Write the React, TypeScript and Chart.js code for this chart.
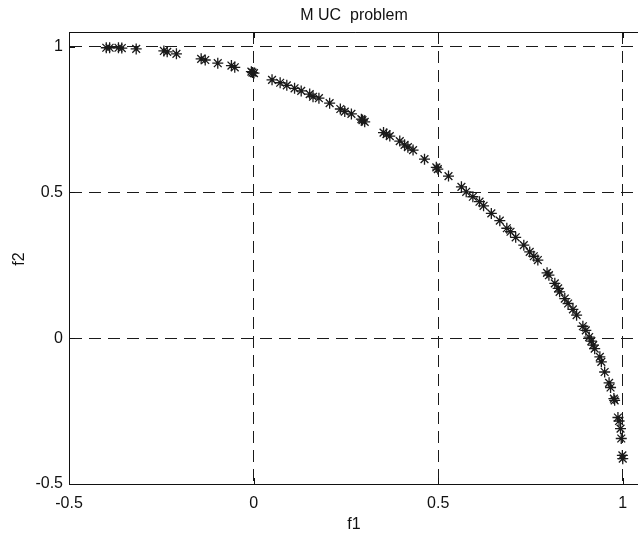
import React, { useEffect, useRef } from "react";
import { Chart, registerables } from "chart.js";

Chart.register(...registerables);

const chartTitle = "M UC  problem";
const xLabel = "f1";
const yLabel = "f2";
const xTicks = [-0.5, 0, 0.5, 1];
const yTicks = [-0.5, 0, 0.5, 1];

const f1Values = [
  -0.399, -0.39, -0.366, -0.357, -0.318, -0.243, -0.234, -0.209, -0.142, -0.131,
  -0.097, -0.06, -0.051, -0.006, 0.001, -0.003, 0.05, 0.072, 0.09, 0.111,
  0.129, 0.152, 0.161, 0.177, 0.206, 0.235, 0.247, 0.265, 0.292, 0.301,
  0.295, 0.352, 0.36, 0.369, 0.396, 0.409, 0.418, 0.432, 0.463, 0.495,
  0.499, 0.528, 0.563, 0.576, 0.594, 0.612, 0.623, 0.644, 0.667, 0.686,
  0.696, 0.71, 0.732, 0.748, 0.759, 0.77, 0.795, 0.8, 0.816, 0.825,
  0.829, 0.843, 0.852, 0.865, 0.875, 0.892, 0.9, 0.909, 0.915, 0.92,
  0.924, 0.938, 0.942, 0.951, 0.963, 0.967, 0.976, 0.978, 0.987, 0.99,
  0.994, 0.996, 0.999, 1.0,
];

const f2Values = [
  0.996, 0.996, 0.996, 0.995, 0.992, 0.985, 0.982, 0.975, 0.958, 0.954,
  0.943, 0.935, 0.929, 0.914, 0.909, 0.911, 0.886, 0.876, 0.867, 0.857,
  0.848, 0.837, 0.828, 0.823, 0.806, 0.786, 0.777, 0.769, 0.751, 0.742,
  0.748, 0.705, 0.7, 0.693, 0.676, 0.663, 0.655, 0.645, 0.614, 0.586,
  0.58, 0.556, 0.519, 0.502, 0.485, 0.468, 0.454, 0.428, 0.403, 0.377,
  0.365, 0.346, 0.319, 0.296, 0.281, 0.268, 0.224, 0.216, 0.188, 0.171,
  0.159, 0.136, 0.119, 0.099, 0.079, 0.041, 0.027, 0.004, -0.01, -0.024,
  -0.036, -0.064, -0.081, -0.116, -0.153, -0.169, -0.207, -0.213, -0.272, -0.284,
  -0.31, -0.344, -0.402, -0.413,
];

const FONT = "'Liberation Sans', Arial, Helvetica, sans-serif";

export default function App() {
  const ref = useRef<HTMLCanvasElement | null>(null);

  useEffect(() => {
    if (!ref.current) return;
    const points = f1Values.map((x, i) => ({ x, y: f2Values[i] }));

    const framePlugin = {
      id: "frame",
      afterDraw(chart: any) {
        const { ctx, chartArea } = chart;
        const xs = chart.scales.x;
        const ys = chart.scales.y;
        ctx.save();
        ctx.strokeStyle = "#111";
        ctx.lineWidth = 1;
        ctx.setLineDash([]);
        ctx.beginPath();
        ctx.moveTo(chartArea.left, Math.round(chartArea.top) + 0.5);
        ctx.lineTo(chartArea.right, Math.round(chartArea.top) + 0.5);
        ctx.stroke();
        const tl = 6;
        xTicks.forEach((v) => {
          const px = Math.round(xs.getPixelForValue(v)) + 0.5;
          ctx.beginPath();
          ctx.moveTo(px, chartArea.bottom);
          ctx.lineTo(px, chartArea.bottom - tl);
          ctx.moveTo(px, chartArea.top);
          ctx.lineTo(px, chartArea.top + tl);
          ctx.stroke();
        });
        yTicks.forEach((v) => {
          const py = Math.round(ys.getPixelForValue(v)) + 0.5;
          ctx.beginPath();
          ctx.moveTo(chartArea.left, py);
          ctx.lineTo(chartArea.left + tl, py);
          ctx.stroke();
        });
        ctx.fillStyle = "#111";
        ctx.font = `16px ${FONT}`;
        ctx.textAlign = "center";
        ctx.textBaseline = "middle";
        ctx.fillText(chartTitle, 354, 16);
        ctx.fillText(xLabel, 354, 525);
        ctx.save();
        ctx.translate(20, 259);
        ctx.rotate(-Math.PI / 2);
        ctx.fillText(yLabel, 0, 0);
        ctx.restore();
        ctx.restore();
      },
    };

    const chart = new Chart(ref.current, {
      type: "scatter",
      data: {
        datasets: [
          {
            data: points,
            pointStyle: "star",
            radius: 5.5,
            borderWidth: 1.3,
            borderColor: "#1a1a1a",
            backgroundColor: "#1a1a1a",
          },
        ],
      },
      options: {
        responsive: false,
        animation: false,
        devicePixelRatio: 1,
        layout: { padding: { top: 32, left: 0, right: 0, bottom: 0 } },
        plugins: {
          legend: { display: false },
          tooltip: { enabled: false },
          title: { display: false },
        },
        scales: {
          x: {
            type: "linear",
            min: -0.5,
            max: 1.05,
            afterFit: (s: any) => {
              s.height = 52;
            },
            afterBuildTicks: (s: any) => {
              s.ticks = xTicks.map((v) => ({ value: v }));
            },
            ticks: {
              includeBounds: false,
              color: "#111",
              font: { family: FONT, size: 16 },
              padding: 10,
              maxRotation: 0,
              callback: (v: any) => String(v),
            },
            grid: { color: "#1a1a1a", lineWidth: 1, drawTicks: false },
            border: { display: true, color: "#111", width: 1, dash: [12, 7] },
          },
          y: {
            type: "linear",
            min: -0.5,
            max: 1.05,
            afterFit: (s: any) => {
              s.width = 69;
            },
            afterBuildTicks: (s: any) => {
              s.ticks = yTicks.map((v) => ({ value: v }));
            },
            ticks: {
              includeBounds: false,
              color: "#111",
              font: { family: FONT, size: 16 },
              padding: 6,
              callback: (v: any) => String(v),
            },
            grid: { color: "#1a1a1a", lineWidth: 1, drawTicks: false },
            border: { display: true, color: "#111", width: 1, dash: [12, 7] },
          },
        },
      },
      plugins: [framePlugin],
    });
    return () => chart.destroy();
  }, []);

  return (
    <div
      style={{
        position: "absolute",
        left: 0,
        top: 0,
        width: 638,
        height: 536,
        overflow: "hidden",
        background: "#fff",
      }}
    >
      <canvas ref={ref} width={648} height={536} style={{ display: "block", width: 648, height: 536 }} />
    </div>
  );
}
